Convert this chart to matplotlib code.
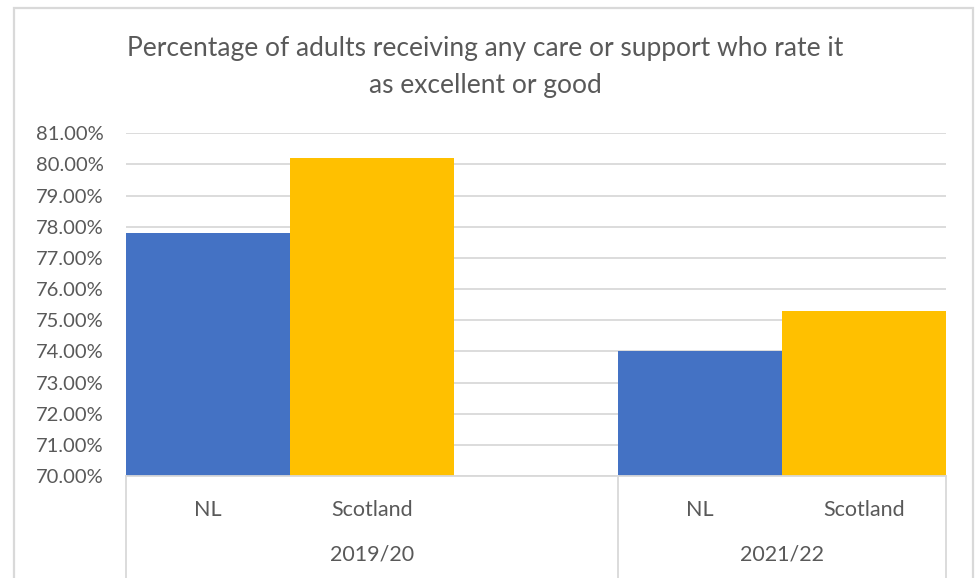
import matplotlib.pyplot as plt
from matplotlib.patches import Rectangle
from matplotlib.ticker import FuncFormatter

plt.rcParams['font.family'] = ['Lato', 'DejaVu Sans']

# values (%)
years = ['2019/20', '2021/22']
areas = ['NL', 'Scotland']
nl_values = [77.8, 74.0]
scotland_values = [80.2, 75.3]
title = 'Percentage of adults receiving any care or support who rate it\nas excellent or good'

blue = '#4472c4'
gold = '#ffc000'
grey_text = '#595959'
grey_line = '#d9d9d9'

fig = plt.figure(figsize=(9.77, 5.78), dpi=100)
ax = fig.add_axes([126 / 977, 1 - 476 / 578, 820 / 977, 342.7 / 578])

# each year block starts at a slot; bars are one slot wide
block_start = [0, 3]
block_end = [3, 5]
for i, yr in enumerate(years):
    x0 = block_start[i]
    ax.bar(x0 + 0.5, nl_values[i] - 70, bottom=70, width=1.0, color=blue, zorder=2)
    ax.bar(x0 + 1.5, scotland_values[i] - 70, bottom=70, width=1.0, color=gold, zorder=2)
    for j, name in enumerate(areas):
        ax.text(x0 + 0.5 + j, -0.099, name, transform=ax.get_xaxis_transform(),
                ha='center', va='center', fontsize=15.5, color=grey_text)
    ax.text((block_start[i] + block_end[i]) / 2, -0.228, yr,
            transform=ax.get_xaxis_transform(),
            ha='center', va='center', fontsize=15.5, color=grey_text)

# category separators below the axis
for xs in [0, 3, 5]:
    ax.plot([xs, xs], [0, -0.32], transform=ax.get_xaxis_transform(),
            color=grey_line, lw=1.3, clip_on=False)
ax.plot([0, 5], [0, 0], transform=ax.get_xaxis_transform(),
        color=grey_line, lw=1.3, clip_on=False, zorder=3)

ax.set_xlim(0, 5)
ax.set_ylim(70, 81)
ax.set_yticks(range(70, 82))
ax.yaxis.set_major_formatter(FuncFormatter(lambda v, p: f'{v:.2f}%'))
ax.set_xticks([])
ax.grid(axis='y', color=grey_line, lw=1.3, zorder=0)
ax.tick_params(axis='y', length=0, pad=16, labelsize=14.5, labelcolor=grey_text)
for s in ax.spines.values():
    s.set_visible(False)

fig.text(0.497, 1 - 67 / 578, title, ha='center', va='center',
         fontsize=19, color=grey_text, linespacing=1.6)

fig.patches.append(Rectangle((14 / 977, -0.05), (972.5 - 14) / 977, 1.05 - 8 / 578,
                             transform=fig.transFigure, fill=False,
                             edgecolor=grey_line, lw=1.6))

fig.savefig('out.png', dpi=100)
